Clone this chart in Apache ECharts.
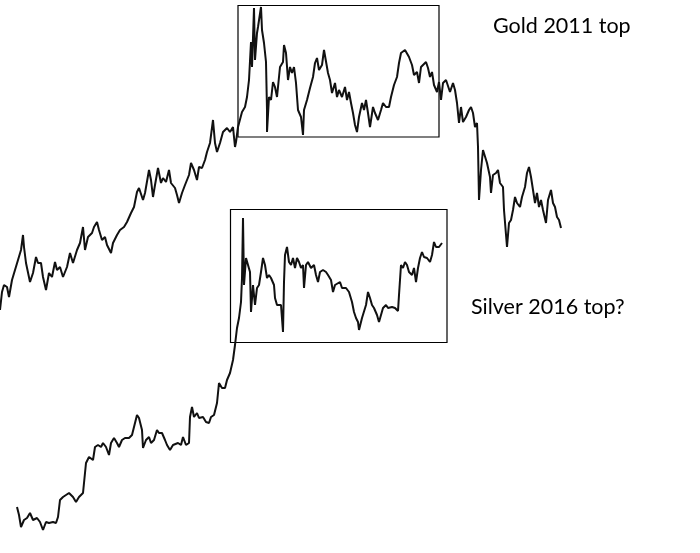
<!DOCTYPE html>
<html>
<head>
<meta charset="utf-8">
<script src="https://cdn.jsdelivr.net/npm/echarts@6/dist/echarts.min.js"></script>
<style>
  html, body { margin: 0; padding: 0; background: #fff; }
  #main { width: 700px; height: 553px; }
</style>
</head>
<body>
<div id="main"></div>
<script>
// bar index (x) and relative price level (y)
var goldX = [0, 2, 4, 7, 9, 12, 15, 18, 21, 23, 24, 26, 30, 33, 36, 38, 41, 43, 46, 49, 52, 55, 57, 60, 63, 67, 70, 73, 77, 80,
    83, 85, 88, 92, 94, 97, 99, 102, 105, 107, 111, 113, 117, 120, 124, 127, 131, 134, 137, 139, 143, 145, 149, 151, 153, 155, 158, 161, 163, 166,
    169, 171, 175, 177, 179, 182, 185, 189, 191, 194, 197, 199, 202, 205, 207, 210, 213, 215, 217, 220, 223, 227, 230, 233, 235, 236, 238, 242, 245, 247,
    249, 251, 252, 254, 255, 257, 258, 261, 262, 264, 266, 267, 267, 269, 271, 273, 275, 277, 280, 283, 284, 286, 288, 290, 292, 294, 296, 298, 301, 303,
    304, 307, 310, 313, 315, 317, 319, 322, 324, 326, 328, 330, 332, 335, 337, 339, 342, 345, 347, 349, 351, 353, 355, 357, 359, 362, 364, 366, 368, 370,
    373, 375, 378, 381, 383, 386, 389, 391, 394, 397, 399, 401, 403, 405, 407, 409, 412, 414, 417, 419, 421, 423, 426, 428, 430, 432, 434, 437, 439, 441,
    443, 446, 450, 453, 455, 457, 459, 461, 463, 466, 469, 471, 473, 475, 477, 478, 479, 481, 483, 485, 487, 490, 491, 493, 496, 498, 500, 503, 504, 507,
    509, 511, 513, 515, 517, 520, 522, 525, 527, 529, 531, 533, 535, 537, 539, 541, 543, 546, 548, 551, 553, 555, 557, 559, 561];
var goldLevel = [48.6, 52.2, 53.6, 53.2, 51.2, 54.6, 56.6, 58.6, 60.6, 63.6, 61.2, 58, 54.2, 56, 59.2, 58, 58, 55.2, 52.6, 56, 55.2, 58.2, 56.6, 57.2, 55.2, 57.2, 60, 58, 60.6, 62,
    65.2, 60.6, 63.2, 64, 65.2, 66.2, 64.6, 62.6, 63.2, 61.6, 60, 62, 63.6, 64.6, 65.2, 66.2, 68, 69.2, 72.2, 73, 70.6, 72, 76.6, 74.6, 71.2, 73.6, 77, 74, 75, 74.2,
    76.6, 74, 73, 71.6, 70, 72, 73.6, 75.6, 78, 76.6, 74.6, 77.2, 77, 78.6, 80.2, 82, 86.6, 82, 80.2, 82, 84.2, 85, 84.2, 85.2, 81.2, 82.2, 85.2, 88.2, 89.2, 91.2,
    94.6, 102.2, 97.2, 109, 98.6, 104, 105.2, 109.2, 104.6, 102, 98.2, 88.6, 84.2, 91.2, 90.6, 94.2, 93.2, 91.2, 97.2, 98.2, 101.6, 100, 94.6, 97.2, 96, 97.2, 94, 88.6, 87.2, 83.6,
    88.6, 90.6, 93, 95.2, 98, 99, 96.6, 97.6, 100.6, 101, 96, 94.6, 92, 94, 91.2, 92.6, 91.2, 93.2, 90.6, 92.2, 90, 88, 85.6, 84.2, 87.2, 90, 88.6, 90.6, 88, 85.2,
    89.2, 88, 86.6, 88.6, 90, 89.2, 89.2, 91.2, 93.6, 95.2, 98, 100, 100, 100.6, 101, 99.2, 97.6, 95.6, 96.2, 94, 97.2, 97, 98.2, 97, 95.2, 96.2, 93.6, 92.2, 94.2, 90.6,
    94, 94.6, 92.2, 94, 92.6, 90, 86, 89.2, 86.2, 87.2, 88.6, 89.2, 88, 85.2, 86, 81.2, 70.6, 76.6, 80.6, 80.2, 78, 75.2, 72, 75.6, 76, 76.6, 74, 73.2, 68.6, 61.2,
    66, 66.6, 68.6, 71.2, 70, 69.2, 71.2, 73.2, 76, 77.2, 75.2, 72.6, 70, 72, 69.2, 70.6, 68.6, 66, 70.6, 72.6, 70, 69.2, 67.2, 66.6, 65];

var silverX = [17, 19, 21, 24, 27, 30, 33, 37, 40, 43, 46, 49, 53, 56, 58, 60, 63, 66, 69, 73, 76, 79, 81, 83, 85, 86, 89, 91, 93, 95,
    98, 101, 103, 106, 109, 111, 114, 117, 119, 122, 125, 129, 132, 134, 137, 139, 142, 143, 146, 149, 151, 154, 157, 159, 162, 165, 167, 170, 173, 175,
    178, 181, 183, 186, 189, 190, 192, 194, 197, 199, 203, 206, 209, 211, 214, 217, 219, 222, 225, 227, 230, 233, 235, 237, 239, 241, 242, 243, 244, 246,
    248, 250, 251, 253, 255, 257, 259, 261, 263, 265, 267, 269, 271, 274, 275, 277, 279, 281, 283, 284, 285, 287, 289, 291, 293, 295, 297, 299, 301, 303,
    304, 306, 308, 311, 314, 316, 318, 320, 323, 326, 328, 331, 333, 335, 337, 340, 342, 344, 346, 349, 352, 354, 356, 358, 359, 362, 364, 366, 368, 370,
    372, 374, 377, 379, 381, 383, 386, 388, 392, 395, 398, 399, 401, 403, 405, 407, 409, 412, 414, 416, 418, 420, 422, 424, 427, 430, 432, 434, 436, 439, 442];
var silverLevel = [9.2, 7.6, 5.2, 6.6, 7, 8, 6.6, 7, 6.2, 4.6, 6.2, 6, 6.2, 6, 7.2, 10.6, 11.2, 11.6, 12, 11.2, 10.2, 11.2, 11.6, 12, 16, 18, 19.2, 19.6, 18.6, 21.2,
    21.6, 21.2, 22, 21.2, 19.6, 22, 23, 22, 21.2, 22.6, 23, 23, 23.6, 25.2, 27.6, 27, 24.6, 21, 22.6, 23.2, 22, 22.6, 24.6, 24, 24, 22.6, 21.6, 20.6, 21.6, 21.2,
    22, 21.6, 23.2, 21.6, 22, 27.2, 29.2, 27.2, 28, 27, 27.2, 26.2, 26, 27.2, 27.6, 30, 34, 33, 33, 34.6, 36, 38.6, 41.6, 45, 47, 50.2, 55, 67, 53.6, 59,
    57.6, 56.2, 48.2, 53.6, 49.6, 53, 53.6, 56.2, 59, 57.6, 55, 55.6, 55, 53.6, 51, 49.6, 49.6, 49.6, 44.2, 54.2, 59.6, 61.2, 58.2, 57.6, 59, 57, 59, 58.2, 57, 57.6,
    53, 57.6, 58.2, 57, 57.6, 55.6, 54.2, 56.2, 56.6, 56.2, 55.6, 54.6, 52.2, 53.6, 54, 54.2, 53, 53.2, 53, 52.2, 50.2, 48.2, 47, 46.2, 44.6, 47, 47, 49.6, 52.2, 51,
    49.6, 49, 47.6, 46.2, 47.6, 49, 49.6, 49, 49.2, 49, 48.4, 51.6, 57.6, 57, 58.2, 57.6, 56.2, 55.6, 57, 54.2, 57, 59, 60.2, 59.2, 59, 58.2, 59.6, 62.2, 61.2, 61.2, 62];

// boxes round the two tops: [x from, x to, level from, level to]
var goldBox = [238, 439, 83.2, 109.5];
var silverBox = [230.5, 447, 42.1, 68.7];

var labels = ['Gold 2011 top', 'Silver 2016 top?'];

function pairs(xs, ys) {
    var out = [];
    for (var i = 0; i < xs.length; i++) {
        out.push([xs[i], ys[i]]);
    }
    return out;
}

function boxArea(b) {
    return [[{ coord: [b[0], b[3]] }, { coord: [b[1], b[2]] }]];
}

var myChart = echarts.init(document.getElementById('main'));

var boxStyle = {
    color: 'rgba(0,0,0,0)',
    borderColor: '#000',
    borderWidth: 1.2
};

var option = {
    animation: false,
    backgroundColor: '#fff',
    grid: { left: 0, right: 0, top: 0, bottom: 0 },
    xAxis: { type: 'value', min: 0, max: 700, show: false },
    yAxis: { type: 'value', min: 0, max: 110.6, show: false },
    graphic: [
        {
            type: 'text',
            x: 493, y: 26,
            style: { text: labels[0], font: '21.5px Lato', fill: '#000', verticalAlign: 'middle' }
        },
        {
            type: 'text',
            x: 471, y: 307,
            style: { text: labels[1], font: '21.5px Lato', fill: '#000', verticalAlign: 'middle' }
        }
    ],
    series: [
        {
            name: 'Gold',
            type: 'line',
            showSymbol: false,
            lineStyle: { color: '#111', width: 2 },
            data: pairs(goldX, goldLevel),
            markArea: { silent: true, itemStyle: boxStyle, data: boxArea(goldBox) }
        },
        {
            name: 'Silver',
            type: 'line',
            showSymbol: false,
            lineStyle: { color: '#111', width: 2 },
            data: pairs(silverX, silverLevel),
            markArea: { silent: true, itemStyle: boxStyle, data: boxArea(silverBox) }
        }
    ]
};

myChart.setOption(option);
</script>
</body>
</html>
